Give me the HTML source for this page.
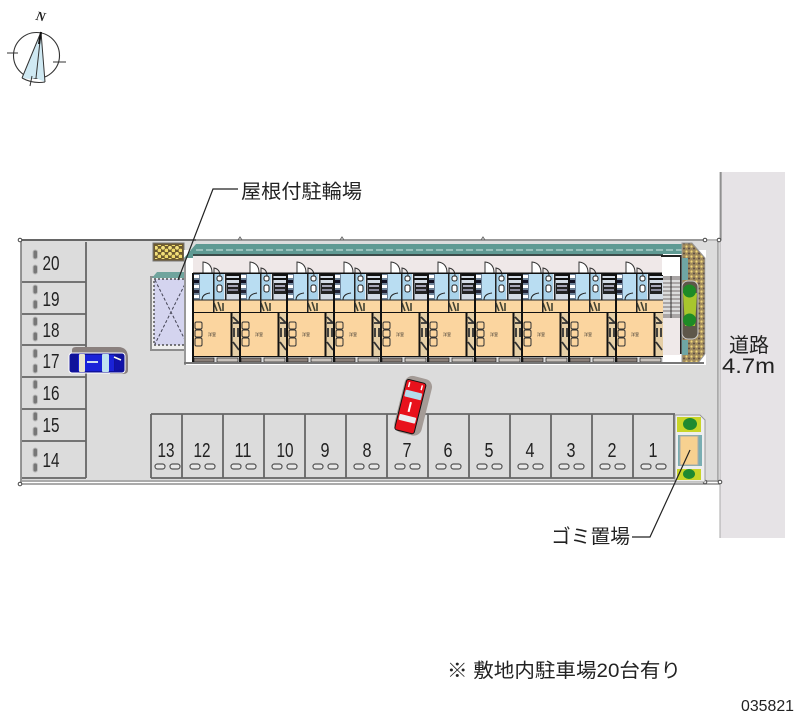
<!DOCTYPE html>
<html lang="ja"><head><meta charset="utf-8"><title>035821</title>
<style>html,body{margin:0;padding:0;background:#fff}svg{display:block;filter:blur(.35px)}
text{font-family:"Liberation Sans","Noto Sans CJK JP",sans-serif;fill:#222}
.n{font-size:20px;text-anchor:middle}
.j{font-size:19.5px}
.r{font-size:4px;text-anchor:middle}
</style></head><body>
<svg width="800" height="727" viewBox="0 0 800 727" xmlns="http://www.w3.org/2000/svg">
<defs>
<g id="unit">
 <!-- wet area -->
 <rect x="0" y="30" width="47" height="27" fill="#e3e8ee"/>
 <rect x="0" y="30" width="20" height="27" fill="#b9ddf2"/>
 <rect x="21" y="30" width="10" height="27" fill="#a9d2ea"/>
 <rect x="0" y="30" width="7" height="27" fill="#6d8197"/>
 <rect x="1" y="32" width="5" height="3" fill="#fff"/><rect x="1" y="37" width="5" height="3" fill="#112"/><rect x="1" y="42" width="5" height="3" fill="#fff"/><rect x="1" y="47" width="5" height="3" fill="#223"/><rect x="1" y="52" width="5" height="3" fill="#fff"/>
 <rect x="24" y="33" width="5" height="5" rx="2" fill="#fff" stroke="#222"/><rect x="24" y="42" width="5" height="7" rx="2" fill="#fff" stroke="#222"/>
 <path d="M9 57Q9 51 17 50" fill="none" stroke="#222"/>
 <rect x="33" y="30" width="14" height="27" fill="#d3dbe5"/>
 <rect x="33" y="31" width="14" height="2" fill="#111"/><rect x="33" y="35" width="14" height="2" fill="#111"/>
 <rect x="34" y="40" width="12" height="11" fill="#222"/><rect x="35" y="42" width="10" height="2" fill="#aab"/><rect x="35" y="46" width="10" height="2" fill="#889"/>
 <!-- door arcs -->
 <path d="M10 30V19Q19 20 19 30" fill="#fff" stroke="#333" stroke-width="1"/>
 <path d="M21 36V25Q27 26 27 33" fill="none" stroke="#333" stroke-width="1"/>
 <!-- entry strip -->
 <rect x="0" y="57" width="47" height="13" fill="#fbd7a2"/>
 <path d="M21 60l3 8M25 59l3 9M30 60v8" stroke="#443" stroke-width="1.6"/>
 <rect x="20" y="30" width="1.5" height="40" fill="#222"/><rect x="0" y="56.500" width="47" height="1" fill="#222"/>
 <rect x="32" y="30" width="1.500" height="27" fill="#222"/>
 <rect x="0" y="69" width="47" height="1.500" fill="#111"/>
 <!-- main room -->
 <rect x="0" y="70" width="39" height="43" fill="#fbd59f"/>
 <rect x="2" y="79" width="7" height="7" rx="1.500" fill="#fbd59f" stroke="#333"/><rect x="2" y="87" width="7" height="7" rx="1.500" fill="#fbd59f" stroke="#333"/><rect x="2" y="95" width="7" height="8" rx="1.500" fill="#fbd59f" stroke="#333"/>
 <rect x="39" y="70" width="8" height="43" fill="#e6cfa6"/>
 <rect x="37.500" y="70" width="2" height="43" fill="#111"/>
 <path d="M40 74l6 6M40 80h6M41 85v9M45 85v9M40 99l6 8" stroke="#333" stroke-width="1.800" fill="none"/>
 <rect x="0" y="113" width="47" height="1.500" fill="#111"/>
 <!-- balcony -->
 <rect x="0" y="114" width="47" height="6" fill="#ddd"/>
 <rect x="1" y="115" width="20" height="4" fill="#8a7f78" stroke="#222" stroke-width=".7"/>
 <rect x="24" y="115" width="21" height="4" fill="#c8c2bc" stroke="#222" stroke-width=".7"/>
 <!-- party wall -->
 <rect x="-1" y="30" width="2" height="90" fill="#111"/>
 <rect x="0" y="29.500" width="47" height="1.500" fill="#111"/>
</g>
<g id="stall"><rect x="-12" y="49" width="10" height="5" rx="2.500" fill="#e8e8e8" stroke="#555" stroke-width="1.200"/><rect x="3" y="49" width="10" height="5" rx="2.500" fill="#e8e8e8" stroke="#555" stroke-width="1.200"/></g>
<g id="side"><rect x="0" y="0" width="4.500" height="9" rx="2.200" fill="#777" stroke="#bbb"/><rect x="0" y="15" width="4.500" height="9" rx="2.200" fill="#777" stroke="#bbb"/></g>
<pattern id="peb" width="5" height="5" patternUnits="userSpaceOnUse"><rect width="5" height="5" fill="#a08a5c"/><circle cx="1.500" cy="1.500" r="1.100" fill="#f1d87c"/><circle cx="4" cy="3.500" r="1" fill="#5c4e44"/></pattern>
<pattern id="peb2" width="7" height="6" patternUnits="userSpaceOnUse"><rect width="7" height="6" fill="#6c5a30"/><circle cx="2" cy="1.800" r="1.900" fill="#f3e07b"/><circle cx="5.500" cy="4.500" r="1.900" fill="#efd96a"/></pattern>
</defs>

<!-- compass -->
<circle cx="36.500" cy="55.500" r="23" fill="none" stroke="#333" stroke-width="1.100"/>
<path d="M41 32L22 78 30 79 36 78Z" fill="#cfe9f3"/><path d="M41 32L36 78 45 82Z" fill="#cfe9f3"/>
<path d="M41 32L22 78M41 32L45 82M41 32L36 78M22 78Q33 84 45 82" fill="none" stroke="#333" stroke-width="1"/>
<path d="M41 32L39 44" stroke="#111" stroke-width="2"/>
<path d="M7 53H18M53 62H66M32 76L30 86" stroke="#333" stroke-width="1"/>
<text x="36" y="21" style="font-family:'Liberation Serif',serif;font-style:italic;font-weight:bold;font-size:13px" transform="rotate(12 42 17)">N</text>

<!-- road -->
<rect x="720" y="172" width="65" height="366" fill="#e6e3e6"/>
<path d="M720 172V538" stroke="#aaa" stroke-width="1"/>

<!-- ground -->
<rect x="21" y="241" width="697" height="241" fill="#dcdcdc"/>
<path d="M20 240H196" stroke="#666" stroke-width="2"/>
<path d="M196 240H705" stroke="#777" stroke-width="1.500"/>
<path d="M705 240H721V172" fill="none" stroke="#777" stroke-width="1"/>
<path d="M21 240V484" stroke="#777" stroke-width="1.500"/>
<path d="M20 484H720" stroke="#777" stroke-width="1.200"/>
<path d="M20 481H718" stroke="#999" stroke-width="1.500"/>
<path d="M718 240V482" stroke="#888" stroke-width="1.200"/>
<circle cx="20" cy="240" r="1.800" fill="#fff" stroke="#444"/><circle cx="20" cy="484" r="1.800" fill="#fff" stroke="#444"/>
<circle cx="705" cy="240" r="1.800" fill="#fff" stroke="#444"/><circle cx="719" cy="240" r="1.800" fill="#fff" stroke="#444"/>
<circle cx="705" cy="482" r="1.800" fill="#fff" stroke="#444"/><circle cx="720" cy="482" r="1.800" fill="#fff" stroke="#444"/>
<path d="M238 240l2-3 2 3M340 240l2-3 2 3M481 240l2-3 2 3" fill="none" stroke="#666"/>

<!-- left parking -->
<path d="M86 242V478" stroke="#666" stroke-width="1.800"/>
<path d="M22 282H86M22 314H86M22 345H86M22 377H86M22 409H86M22 441H86M22 478H86" stroke="#666" stroke-width="1.800"/>
<use href="#side" x="33" y="250"/><use href="#side" x="33" y="285"/><use href="#side" x="33" y="317"/><use href="#side" x="33" y="349"/><use href="#side" x="33" y="380"/><use href="#side" x="33" y="412"/><use href="#side" x="33" y="448"/>
<text class="n" x="51" y="270" textLength="17" lengthAdjust="spacingAndGlyphs">20</text><text class="n" x="51" y="306" textLength="17" lengthAdjust="spacingAndGlyphs">19</text><text class="n" x="51" y="337" textLength="17" lengthAdjust="spacingAndGlyphs">18</text><text class="n" x="51" y="368" textLength="17" lengthAdjust="spacingAndGlyphs">17</text><text class="n" x="51" y="400" textLength="17" lengthAdjust="spacingAndGlyphs">16</text><text class="n" x="51" y="432" textLength="17" lengthAdjust="spacingAndGlyphs">15</text><text class="n" x="51" y="467" textLength="17" lengthAdjust="spacingAndGlyphs">14</text>

<!-- bottom parking -->
<path d="M151 414H675M151 414V478M151 478H675" fill="none" stroke="#666" stroke-width="1.800"/>
<path d="M182 414V478M223 414V478M264 414V478M305 414V478M346 414V478M387 414V478M428 414V478M469 414V478M510 414V478M551 414V478M592 414V478M633 414V478M674 414V478" stroke="#666" stroke-width="1.800"/>
<text class="n" x="166" y="457" textLength="17" lengthAdjust="spacingAndGlyphs">13</text><text class="n" x="202" y="457" textLength="17" lengthAdjust="spacingAndGlyphs">12</text><text class="n" x="243" y="457" textLength="17" lengthAdjust="spacingAndGlyphs">11</text><text class="n" x="285" y="457" textLength="17" lengthAdjust="spacingAndGlyphs">10</text><text class="n" x="325" y="457" textLength="9" lengthAdjust="spacingAndGlyphs">9</text><text class="n" x="367" y="457" textLength="9" lengthAdjust="spacingAndGlyphs">8</text><text class="n" x="407" y="457" textLength="9" lengthAdjust="spacingAndGlyphs">7</text><text class="n" x="448" y="457" textLength="9" lengthAdjust="spacingAndGlyphs">6</text><text class="n" x="489" y="457" textLength="9" lengthAdjust="spacingAndGlyphs">5</text><text class="n" x="530" y="457" textLength="9" lengthAdjust="spacingAndGlyphs">4</text><text class="n" x="571" y="457" textLength="9" lengthAdjust="spacingAndGlyphs">3</text><text class="n" x="612" y="457" textLength="9" lengthAdjust="spacingAndGlyphs">2</text><text class="n" x="653" y="457" textLength="9" lengthAdjust="spacingAndGlyphs">1</text>
<use href="#stall" x="167" y="415"/><use href="#stall" x="202" y="415"/><use href="#stall" x="243" y="415"/><use href="#stall" x="284" y="415"/><use href="#stall" x="325" y="415"/><use href="#stall" x="366" y="415"/><use href="#stall" x="407" y="415"/><use href="#stall" x="448" y="415"/><use href="#stall" x="489" y="415"/><use href="#stall" x="530" y="415"/><use href="#stall" x="571" y="415"/><use href="#stall" x="612" y="415"/><use href="#stall" x="653" y="415"/>

<!-- bicycle shed -->
<rect x="153" y="243" width="31" height="18" fill="#6c5a30" stroke="#777"/>
<rect x="155" y="245" width="27" height="14" fill="url(#peb2)"/>
<rect x="151" y="277" width="38" height="73" fill="#eee" stroke="#8d8d8d" stroke-width="2"/>
<path d="M157 272H186L190 278H152Z" fill="#6fa49d"/>
<rect x="154" y="279" width="34" height="66" fill="#d4d4ef" stroke="#333" stroke-width="1.200" stroke-dasharray="2 2"/>
<path d="M155 280L187 344M187 280L155 344" stroke="#445" stroke-width="1" stroke-dasharray="3 2"/>

<!-- building -->
<rect x="184" y="250" width="522" height="115" fill="#fff"/>
<rect x="184" y="258" width="2" height="107" fill="#999"/>
<path d="M184 258L196 244H683V254H194V258Z" fill="#5f9a93"/>
<path d="M196 250H682" stroke="#d5e8e4" stroke-width="1" stroke-dasharray="7 3"/>
<rect x="193" y="254" width="470" height="2" fill="#3d4c4a"/>
<rect x="193" y="256" width="470" height="17" fill="#efe8e8"/>
<use href="#unit" x="193" y="243"/><use href="#unit" x="240" y="243"/><use href="#unit" x="287" y="243"/><use href="#unit" x="334" y="243"/><use href="#unit" x="381" y="243"/><use href="#unit" x="428" y="243"/><use href="#unit" x="475" y="243"/><use href="#unit" x="522" y="243"/><use href="#unit" x="569" y="243"/><use href="#unit" x="616" y="243"/>
<text class="r" x="212" y="336">洋室</text><text class="r" x="259" y="336">洋室</text><text class="r" x="306" y="336">洋室</text><text class="r" x="353" y="336">洋室</text><text class="r" x="400" y="336">洋室</text><text class="r" x="447" y="336">洋室</text><text class="r" x="494" y="336">洋室</text><text class="r" x="541" y="336">洋室</text><text class="r" x="588" y="336">洋室</text><text class="r" x="635" y="336">洋室</text>
<!-- stairs -->
<rect x="662" y="257" width="20" height="18" fill="#fff"/>
<path d="M661 256H681V275" fill="none" stroke="#222" stroke-width="2"/>
<rect x="663" y="276" width="17" height="42" fill="#a9a5a5"/>
<path d="M663 281H680M663 285H680M663 289H680M663 293H680M663 297H680M663 301H680M663 305H680M663 309H680M663 313H680" stroke="#eee" stroke-width="1.500"/>
<path d="M671 276V318" stroke="#333"/>
<rect x="663" y="318" width="17" height="37" fill="#efe9e9"/>
<rect x="680" y="256" width="2" height="98" fill="#222"/>
<!-- right strip -->
<path d="M682 243H692L705 258V354L698 363H682Z" fill="url(#peb)" stroke="#999"/>
<rect x="682" y="258" width="6" height="22" fill="#6fa5a4"/><rect x="682" y="340" width="6" height="15" fill="#6fa5a4"/>
<rect x="682" y="281" width="16" height="58" rx="6" fill="#5e574a" stroke="#ccc"/>
<path d="M683 293H697L695 326H685Z" fill="#a8c62d"/>
<circle cx="689.500" cy="291" r="6.500" fill="#1e8b26"/><circle cx="689.500" cy="320" r="6.500" fill="#1e8b26"/>
<rect x="184" y="362" width="520" height="2" fill="#777"/>

<!-- blue car -->
<path d="M72 354V350Q72 347 76 347H118Q128 347 128 358V370Q128 374 123 374H110V354Z" fill="#8a807e"/>
<rect x="69" y="353" width="56" height="20" rx="3" fill="#10129a" stroke="#fff" stroke-width="1"/>
<rect x="78" y="355" width="36" height="16" fill="#1a22d8"/>
<rect x="79" y="354" width="6" height="18" rx="1" fill="#e8e4cf"/>
<rect x="102" y="354" width="7" height="18" rx="1" fill="#bfe2f0"/>
<rect x="87" y="361" width="11" height="2" fill="#cde"/>
<path d="M115 356L123 360V368L115 371Z" fill="#1111aa"/><path d="M114 357l7 3" stroke="#ffe" stroke-width="1.500"/>

<!-- red car -->
<g transform="rotate(14 410 406)">
<rect x="399" y="376" width="28" height="58" rx="8" fill="#a49b96"/>
<rect x="400" y="380" width="21" height="53" rx="3" fill="#111"/>
<rect x="401" y="381" width="19" height="51" rx="2" fill="#e8121c"/>
<rect x="402" y="391" width="17" height="7" rx="1" fill="#b4dcec"/>
<rect x="402" y="416" width="17" height="6" rx="1" fill="#e9eef0"/>
<path d="M410 402V412" stroke="#fff" stroke-width="2"/>
<path d="M404 383V388M417 383V388" stroke="#fff" stroke-width="1.500"/>
</g>

<!-- garbage area -->
<path d="M675 415H700L705 420V482H675Z" fill="#eee" stroke="#999"/>
<rect x="677" y="417" width="24" height="15" fill="#c9d528"/>
<ellipse cx="690" cy="424" rx="7" ry="6" fill="#1f8a30"/>
<rect x="678" y="435" width="24" height="31" fill="#79aeb2"/>
<rect x="680" y="436" width="18" height="29" fill="#f7d190" stroke="#aaa"/>
<rect x="677" y="469" width="24" height="11" fill="#c9d528"/>
<ellipse cx="689" cy="474" rx="6" ry="5" fill="#1f8a30"/>

<!-- leaders -->
<path d="M238 189H213L178 280" fill="none" stroke="#222" stroke-width="1.200"/>
<path d="M632 537H650L690 450" fill="none" stroke="#222" stroke-width="1.200"/>

<!-- labels -->
<text class="j" x="241" y="198" textLength="121" lengthAdjust="spacingAndGlyphs">屋根付駐輪場</text>
<text class="j" x="551" y="543" textLength="79" lengthAdjust="spacingAndGlyphs">ゴミ置場</text>
<text x="729" y="352" textLength="40" lengthAdjust="spacingAndGlyphs" style="font-size:20px">道路</text>
<text x="722" y="373" textLength="53" lengthAdjust="spacingAndGlyphs" style="font-size:21px">4.7m</text>
<text x="447" y="677" textLength="234" lengthAdjust="spacingAndGlyphs" style="font-size:19.5px">※ 敷地内駐車場20台有り</text>
<text x="741" y="711" textLength="53" lengthAdjust="spacingAndGlyphs" style="font-size:16px">035821</text>
</svg>
</body></html>
